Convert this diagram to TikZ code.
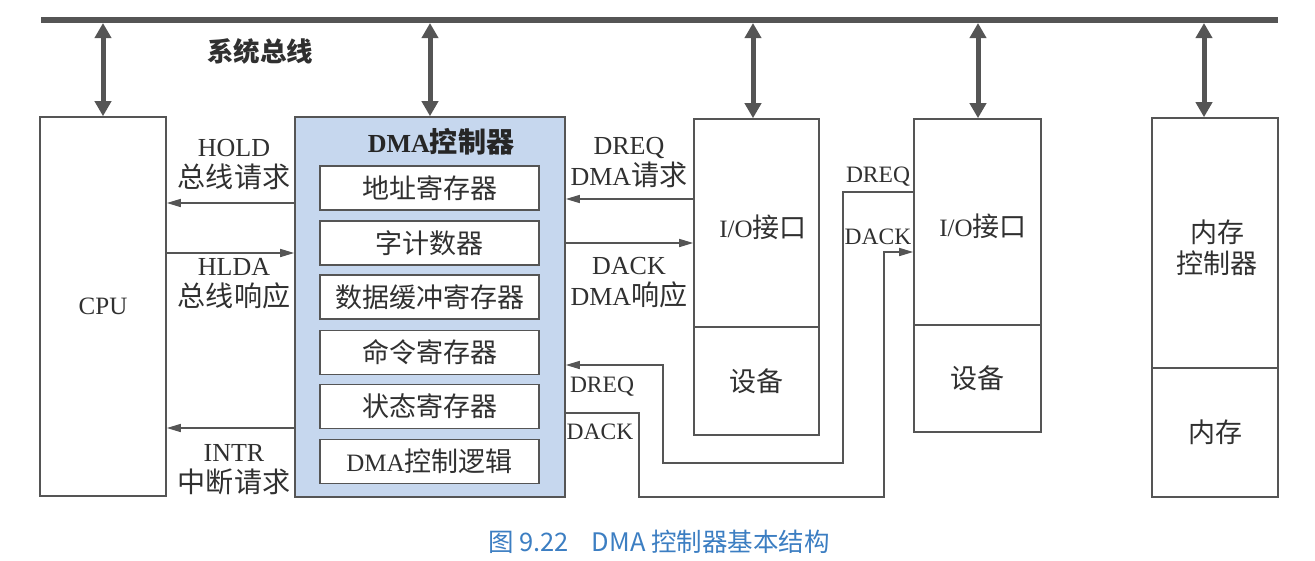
\documentclass[tikz,border=0pt]{standalone}
\usepackage{fontspec}
\setmainfont{Liberation Serif}
\newfontfamily\cjk[Scale=1.08]{Noto Sans CJK SC}
\newfontfamily\capfont{Noto Sans CJK SC}
\usetikzlibrary{arrows.meta}

\definecolor{ink}{HTML}{555555}
\definecolor{txt}{HTML}{303030}
\definecolor{dmafill}{HTML}{C6D7EE}
\definecolor{capblue}{HTML}{3C7EC2}

\tikzset{
  box/.style={draw=ink, line width=1.6pt, inner sep=0pt, text=txt,
    font=\fontsize{25}{30}\selectfont},
  regbox/.style={box, fill=white, minimum width=219pt, minimum height=44pt},
  busarrow/.style={draw=ink, line width=5pt,
    {Triangle[width=16pt,length=15pt]}-{Triangle[width=16pt,length=15pt]}},
  sig/.style={draw=ink, line width=1.5pt, -{Triangle[width=8pt,length=14pt]}},
  lbl/.style={text=txt, inner sep=0pt, align=center,
    font=\fontsize{26}{31}\selectfont},
  slbl/.style={text=txt, inner sep=0pt, font=\fontsize{23.5}{26}\selectfont},
}

\begin{document}
\begin{tikzpicture}[x=1pt, y=-1pt]
\useasboundingbox (0,0) rectangle (1315,560);

% system bus
\coordinate (busL) at (41,20);
\coordinate (busR) at (1278,20);
\draw[ink, line width=6pt] (busL) -- (busR);
\node[text=txt, inner sep=0pt, font=\cjk\bfseries\fontsize{24.5}{30}\selectfont]
  (buslabel) at (260,51) {系统总线};

% main blocks
\node[box, minimum width=126pt, minimum height=379pt] (cpu) at (103,306.5) {CPU};
\node[box, fill=dmafill, minimum width=270pt, minimum height=380pt] (dma) at (430,307) {};
\node[text=black!85, inner sep=0pt, font=\fontsize{26}{30}\selectfont\bfseries]
  (dmatitle) at (441,142) {DMA{\cjk\bfseries 控制器}};

\node[regbox] (r1) at (429.5,188)   {\cjk 地址寄存器};
\node[regbox] (r2) at (429.5,243)   {\cjk 字计数器};
\node[regbox] (r3) at (429.5,297)   {\cjk 数据缓冲寄存器};
\node[regbox] (r4) at (429.5,352.5) {\cjk 命令寄存器};
\node[regbox] (r5) at (429.5,406.5) {\cjk 状态寄存器};
\node[regbox] (r6) at (429.5,461.5) {DMA{\cjk 控制逻辑}};

% first I/O interface and device
\node[box, minimum width=125pt, minimum height=208pt] (io1) at (756.5,223) {};
\node[box, minimum width=125pt, minimum height=108pt] (dev1) at (756.5,381) {\cjk 设备};
\node[text=txt, inner sep=0pt, font=\fontsize{25}{30}\selectfont] (io1t) at (763,227) {I/O{\cjk 接口}};

% second I/O interface and device
\node[box, minimum width=127pt, minimum height=206pt] (io2) at (977.5,222) {};
\node[box, minimum width=127pt, minimum height=107pt] (dev2) at (977.5,378.5) {\cjk 设备};
\node[text=txt, inner sep=0pt, font=\fontsize{25}{30}\selectfont] (io2t) at (983,226) {I/O{\cjk 接口}};

% memory controller and memory
\node[box, minimum width=126pt, minimum height=250pt] (memctl) at (1215,243) {};
\node[text=txt, inner sep=0pt, align=center, font=\cjk\fontsize{25}{31}\selectfont]
  (memctlt) at (1217,248) {内存\\控制器};
\node[box, minimum width=126pt, minimum height=129pt] (mem) at (1215,432.5) {\cjk 内存};

% bus connections
\coordinate (b1) at (103,23);
\coordinate (b2) at (430,23);
\coordinate (b3) at (753,23);
\coordinate (b4) at (978,23);
\coordinate (b5) at (1204,23);
\draw[busarrow] (b1) -- (b1 |- cpu.north);
\draw[busarrow] (b2) -- (b2 |- dma.north);
\draw[busarrow] (b3) -- (b3 |- io1.north);
\draw[busarrow] (b4) -- (b4 |- io2.north);
\draw[busarrow] (b5) -- (b5 |- memctl.north);

% CPU <-> DMA handshake
\coordinate (yhold) at (0,203);
\coordinate (yhlda) at (0,253);
\coordinate (yintr) at (0,428);
\draw[sig] (dma.west |- yhold) -- (cpu.east |- yhold);
\draw[sig] (cpu.east |- yhlda) -- (dma.west |- yhlda);
\draw[sig] (dma.west |- yintr) -- (cpu.east |- yintr);
\node[lbl] (lhold) at (234,165) {HOLD\\{\cjk 总线请求}};
\node[lbl] (lhlda) at (234,284) {HLDA\\{\cjk 总线响应}};
\node[lbl] (lintr) at (234,470) {INTR\\{\cjk 中断请求}};

% DMA <-> first I/O interface
\coordinate (ydreq) at (0,199);
\coordinate (ydack) at (0,243);
\draw[sig] (io1.west |- ydreq) -- (dma.east |- ydreq);
\draw[sig] (dma.east |- ydack) -- (io1.west |- ydack);
\node[lbl] (ldreq) at (629,163) {DREQ\\DMA{\cjk 请求}};
\node[lbl] (ldack) at (629,283) {DACK\\DMA{\cjk 响应}};

% DMA <-> second I/O interface (routed below the first device)
\coordinate (q1) at (843,192);
\coordinate (q2) at (843,463);
\coordinate (q3) at (663,463);
\coordinate (q4) at (663,365);
\draw[sig] (io2.west |- q1) -- (q1) -- (q2) -- (q3) -- (q4) -- (dma.east |- q4);
\coordinate (k1) at (639,413);
\coordinate (k2) at (639,497);
\coordinate (k3) at (884,497);
\coordinate (k4) at (884,252);
\draw[sig] (dma.east |- k1) -- (k1) -- (k2) -- (k3) -- (k4) -- (io2.west |- k4);
\node[slbl] (ldreq2) at (602,387) {DREQ};
\node[slbl] (ldack2) at (600,432) {DACK};
\node[slbl] (ldreq3) at (878,177) {DREQ};
\node[slbl] (ldack3) at (878,237) {DACK};

% caption
\node[text=capblue, inner sep=0pt, font=\capfont\fontsize{25.5}{30}\selectfont]
  (caption) at (659,542) {图 9.22\hspace{0.9em}DMA 控制器基本结构};
\end{tikzpicture}
\end{document}
